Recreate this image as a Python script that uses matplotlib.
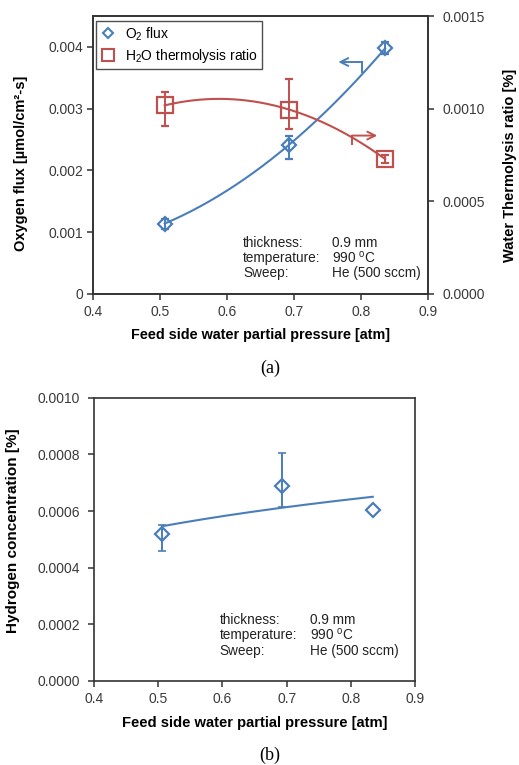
import numpy as np
import matplotlib

matplotlib.use("Agg")

import matplotlib.pyplot as plt
from matplotlib.lines import Line2D


plt.rcParams["font.family"] = ["Liberation Sans", "DejaVu Sans"]
plt.rcParams["mathtext.fontset"] = "custom"
plt.rcParams["mathtext.rm"] = "Liberation Sans"
plt.rcParams["mathtext.it"] = "Liberation Sans:italic"
plt.rcParams["mathtext.bf"] = "Liberation Sans:bold"

blue = "#4A7EBB"
red = "#C0504D"
spine_color = "#333333"
tick_text = "#3a3a3a"


# panel (a): oxygen flux and water thermolysis ratio
pressure_a = [0.507, 0.693, 0.836]
o2_flux = [0.00114, 0.00242, 0.00398]
o2_err_low = [0.00008, 0.00023, 0.0001]
o2_err_high = [0.00008, 0.00013, 0.0001]

thermolysis_ratio = [0.001018, 0.000995, 0.000728]
ratio_err_low = [0.00011, 0.000107, 0.00002]
ratio_err_high = [0.00007, 0.000164, 0.00002]

# panel (b): hydrogen concentration
pressure_b = [0.506, 0.692, 0.834]
h2_conc = [0.000518, 0.000687, 0.000603]
h2_err_low = [0.00006, 0.000073, 0.0]
h2_err_high = [0.000033, 0.000118, 0.0]

x_ticks = [0.4, 0.5, 0.6, 0.7, 0.8, 0.9]
o2_ticks = [0, 0.001, 0.002, 0.003, 0.004]
ratio_ticks = [0.0, 0.0005, 0.0010, 0.0015]
h2_ticks = [0.0, 0.0002, 0.0004, 0.0006, 0.0008, 0.0010]

info_keys = ["thickness:", "temperature:", "Sweep:"]
info_values = ["0.9 mm", "990 $^{\\mathrm{o}}$C", "He (500 sccm)"]


def style_axis(ax):
    for side in ["left", "right", "top", "bottom"]:
        ax.spines[side].set_color(spine_color)
        ax.spines[side].set_linewidth(1.2)
    ax.tick_params(axis="both", direction="out", length=4, width=1.1,
                   color=spine_color, labelsize=10, labelcolor=tick_text)
    ax.tick_params(axis="x", pad=4)
    ax.tick_params(axis="y", pad=3)


fig = plt.figure(figsize=(5.19, 7.65), dpi=100)

# ---------- (a) ----------
ax1 = fig.add_axes([0.179, 0.6157, 0.646, 0.3633])
ax2 = ax1.twinx()

xs_a = np.linspace(min(pressure_a), max(pressure_a), 200)
o2_fit = np.polyfit(pressure_a, o2_flux, 2)
ratio_fit = np.polyfit(pressure_a, thermolysis_ratio, 2)

ax1.plot(xs_a, np.polyval(o2_fit, xs_a), color=blue, lw=1.5, zorder=2)
ax1.errorbar(pressure_a, o2_flux, yerr=[o2_err_low, o2_err_high], fmt="D",
             ms=7, mfc="none", mec=blue, mew=1.6, ecolor=blue, elinewidth=1.4,
             capsize=3, capthick=1.2, zorder=3)

ax2.plot(xs_a, np.polyval(ratio_fit, xs_a), color=red, lw=1.5, zorder=2)
ax2.errorbar(pressure_a, thermolysis_ratio, yerr=[ratio_err_low, ratio_err_high],
             fmt="s", ms=11, mfc="none", mec=red, mew=1.6, ecolor=red,
             elinewidth=1.4, capsize=3, capthick=1.2, zorder=3)

# bent arrows telling which axis each curve uses
ax1.plot([0.801, 0.801], [0.00359, 0.003756], color=blue, lw=1.4)
ax1.annotate("", xy=(0.766, 0.003756), xytext=(0.8015, 0.003756),
             arrowprops=dict(arrowstyle="->", color=blue, lw=1.4,
                             mutation_scale=14, shrinkA=0, shrinkB=0))
ax2.plot([0.787, 0.787], [0.00081, 0.000855], color=red, lw=1.4)
ax2.annotate("", xy=(0.824, 0.000855), xytext=(0.7865, 0.000855),
             arrowprops=dict(arrowstyle="->", color=red, lw=1.4,
                             mutation_scale=14, shrinkA=0, shrinkB=0))

ax1.set_xlim(0.4, 0.9)
ax1.set_ylim(0, 0.0045)
ax2.set_ylim(0, 0.0015)
ax1.set_xticks(x_ticks)
ax1.set_xticklabels([str(v) for v in x_ticks])
ax1.set_yticks(o2_ticks)
ax1.set_yticklabels(["0", "0.001", "0.002", "0.003", "0.004"])
ax2.set_yticks(ratio_ticks)
ax2.set_yticklabels(["%.4f" % v for v in ratio_ticks])
style_axis(ax1)
style_axis(ax2)
ax2.tick_params(axis="y", pad=6)

ax1.set_xlabel("Feed side water partial pressure [atm]", fontsize=10.4,
               fontweight="bold")
ax1.xaxis.set_label_coords(0.5, -0.122)
ax1.set_ylabel("Oxygen flux [\u00b5mol/cm\u00b2-s]", fontsize=10.5,
               fontweight="bold")
ax1.yaxis.set_label_coords(-0.194, 0.469)
ax2.set_ylabel("Water Thermolysis ratio [%]", fontsize=10.5, fontweight="bold",
               rotation=90)
ax2.yaxis.set_label_coords(1.224, 0.464)

legend_handles = [
    Line2D([], [], ls="none", marker="D", ms=5.5, mfc="none", mec=blue, mew=1.5),
    Line2D([], [], ls="none", marker="s", ms=8, mfc="none", mec=red, mew=1.5),
]
leg = ax1.legend(legend_handles, ["O$_2$ flux", "H$_2$O thermolysis ratio"],
                 loc="upper left", bbox_to_anchor=(0.009, 0.982),
                 borderaxespad=0, fontsize=10, frameon=True, fancybox=False,
                 handlelength=1.2, handletextpad=0.6, borderpad=0.3,
                 labelspacing=0.3)
leg.get_frame().set_edgecolor("#222222")
leg.get_frame().set_linewidth(1.0)
leg.set_zorder(5)

info_y_a = [0.00083, 0.000585, 0.000341]
for key, val, y in zip(info_keys, info_values, info_y_a):
    ax1.text(0.624, y, key, fontsize=9.8, va="center", ha="left", color="#222222")
    ax1.text(0.757, y, val, fontsize=9.8, va="center", ha="left", color="#222222")

fig.text(0.52, 0.519, "(a)", fontsize=13, family="Liberation Serif",
         ha="center", va="center")

# ---------- (b) ----------
ax3 = fig.add_axes([0.181, 0.110, 0.619, 0.370])

xs_b = np.linspace(min(pressure_b), max(pressure_b), 200)
h2_fit = np.polyfit(np.log(pressure_b), h2_conc, 1)
ax3.plot(xs_b, np.polyval(h2_fit, np.log(xs_b)), color=blue, lw=1.5, zorder=2)

ax3.plot(pressure_b, h2_conc, ls="none", marker="D", ms=7.5, mfc="none",
         mec=blue, mew=1.6, zorder=3)
has_err = [i for i in range(len(pressure_b)) if h2_err_low[i] + h2_err_high[i] > 0]
ax3.errorbar([pressure_b[i] for i in has_err], [h2_conc[i] for i in has_err],
             yerr=[[h2_err_low[i] for i in has_err], [h2_err_high[i] for i in has_err]],
             fmt="none", ecolor=blue, elinewidth=1.4, capsize=3, capthick=1.2,
             zorder=3)

ax3.set_xlim(0.4, 0.9)
ax3.set_ylim(0, 0.0010)
ax3.set_xticks(x_ticks)
ax3.set_xticklabels([str(v) for v in x_ticks])
ax3.set_yticks(h2_ticks)
ax3.set_yticklabels(["%.4f" % v for v in h2_ticks])
style_axis(ax3)
ax3.tick_params(axis="y", pad=6)

ax3.set_xlabel("Feed side water partial pressure [atm]", fontsize=10.6,
               fontweight="bold")
ax3.xaxis.set_label_coords(0.5, -0.125)
ax3.set_ylabel("Hydrogen concentration [%]", fontsize=11, fontweight="bold")
ax3.yaxis.set_label_coords(-0.2305, 0.531)

info_y_b = [0.000216, 0.000163, 0.000104]
for key, val, y in zip(info_keys, info_values, info_y_b):
    ax3.text(0.596, y, key, fontsize=9.8, va="center", ha="left", color="#222222")
    ax3.text(0.736, y, val, fontsize=9.8, va="center", ha="left", color="#222222")

fig.text(0.519, 0.013, "(b)", fontsize=13, family="Liberation Serif",
         ha="center", va="center")

fig.savefig("out.png", dpi=100)
